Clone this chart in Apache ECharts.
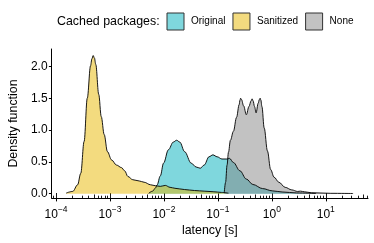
<!DOCTYPE html>
<html><head><meta charset="utf-8">
<script src="https://cdn.jsdelivr.net/npm/echarts@6/dist/echarts.min.js"></script>
<style>html,body{margin:0;padding:0;background:#fff}#c{width:374px;height:243px}</style>
</head><body><div id="c"></div>
<script>
const categories = ['Original', 'Sanitized', 'None'];
const fillColors = ['#00AFBB', '#E7B800', '#868686'];

const originalLatency = [5.21e-3, 6.15e-3, 6.97e-3, 7.48e-3, 8.57e-3, 9.84e-3, 1.21e-2, 1.49e-2, 1.72e-2, 1.97e-2, 2.42e-2, 3.20e-2, 3.94e-2, 4.71e-2, 5.57e-2, 6.85e-2, 8.09e-2, 9.68e-2, 0.119, 0.147, 0.164, 0.194, 0.256, 0.337, 0.445, 0.675, 1.02, 1.55, 2.88, 6.62];
const originalDensity = [0.005, 0.04, 0.09, 0.14, 0.28, 0.48, 0.69, 0.81, 0.84, 0.81, 0.66, 0.48, 0.42, 0.40, 0.45, 0.58, 0.61, 0.58, 0.545, 0.545, 0.555, 0.49, 0.36, 0.23, 0.145, 0.08, 0.045, 0.027, 0.012, 0.004];

const sanitizedLatency = [1.54e-4, 2.04e-4, 2.51e-4, 2.87e-4, 3.31e-4, 3.79e-4, 4.36e-4, 4.62e-4, 4.88e-4, 5.15e-4, 5.45e-4, 6.18e-4, 6.89e-4, 7.80e-4, 8.97e-4, 1.07e-3, 1.32e-3, 1.63e-3, 1.87e-3, 2.15e-3, 2.64e-3, 3.48e-3, 4.29e-3, 5.66e-3, 6.97e-3, 8.57e-3, 1.06e-2, 1.30e-2, 1.60e-2, 2.42e-2, 3.67e-2, 5.56e-2, 8.43e-2, 0.117, 0.157];
const sanitizedDensity = [0.01, 0.036, 0.14, 0.32, 0.82, 1.50, 2.01, 2.12, 2.17, 2.13, 2.03, 1.56, 1.21, 0.93, 0.66, 0.53, 0.45, 0.41, 0.36, 0.27, 0.22, 0.20, 0.18, 0.14, 0.125, 0.115, 0.13, 0.10, 0.085, 0.065, 0.05, 0.04, 0.03, 0.02, 0.008];

const noneLatency = [0.131, 0.139, 0.148, 0.157, 0.171, 0.194, 0.222, 0.248, 0.257, 0.264, 0.274, 0.300, 0.337, 0.377, 0.413, 0.431, 0.449, 0.478, 0.511, 0.558, 0.588, 0.607, 0.627, 0.655, 0.723, 0.830, 0.951, 1.10, 1.35, 1.77, 2.34, 3.01, 3.40, 4.03, 5.38, 12.4, 32.1];
const noneDensity = [0.01, 0.18, 0.45, 0.65, 0.84, 0.98, 1.2, 1.4, 1.47, 1.5, 1.48, 1.38, 1.24, 1.37, 1.46, 1.49, 1.46, 1.37, 1.27, 1.42, 1.48, 1.50, 1.47, 1.37, 1.03, 0.67, 0.38, 0.26, 0.18, 0.10, 0.06, 0.035, 0.04, 0.03, 0.015, 0.006, 0.003];

const majorTickExponents = [-4, -3, -2, -1, 0, 1];
const midTickMultiplier = [5];
const minorTickMultipliers = [2, 3, 4, 6, 7, 8, 9];
const yTickValues = [0, 0.5, 1.0, 1.5, 2.0];

const X_LOG_MIN = -4.083, X_LOG_MAX = 1.783;
const FONT = 'Liberation Sans, Arial, Helvetica, sans-serif';

function zip(xs, ys) { return xs.map((x, i) => [x, ys[i]]); }
function rgba(hex, a) {
  const r = parseInt(hex.slice(1, 3), 16), g = parseInt(hex.slice(3, 5), 16), b = parseInt(hex.slice(5, 7), 16);
  return `rgba(${r},${g},${b},${a})`;
}
function logTicks(mults) {
  const out = [];
  for (let k = -5; k <= 2; k++) for (const m of mults) {
    const v = Math.log10(m) + k;
    if (v >= X_LOG_MIN - 1e-9 && v <= X_LOG_MAX + 1e-9) out.push(v);
  }
  return out;
}

const seriesData = [zip(originalLatency, originalDensity), zip(sanitizedLatency, sanitizedDensity), zip(noneLatency, noneDensity)];

function overlayAxis(values, length, extra) {
  return Object.assign({
    type: 'value', gridIndex: 0, position: 'bottom', min: X_LOG_MIN, max: X_LOG_MAX,
    axisLine: { show: false, onZero: false },
    axisTick: { show: true, inside: true, length: length, customValues: values, lineStyle: { color: '#000', width: 0.9 } },
    axisLabel: { show: false },
    splitLine: { show: false }
  }, extra || {});
}

const chart = echarts.init(document.getElementById('c'), null, { renderer: 'canvas' });
chart.setOption({
  animation: false,
  textStyle: { fontFamily: FONT },
  title: {
    text: 'Cached packages:', left: 57, top: 14.5, padding: 0,
    textStyle: { fontFamily: FONT, fontSize: 12.4, fontWeight: 'normal', color: '#000', lineHeight: 14 }
  },
  legend: {
    left: 166.5, top: 12.5, padding: 0, itemWidth: 17, itemHeight: 17, itemGap: 7,
    textStyle: { fontFamily: FONT, fontSize: 10, color: '#000', padding: [0, 0, 0, 2] },
    data: categories.map((c, i) => ({
      name: c, icon: 'rect',
      itemStyle: { color: rgba(fillColors[i], 0.5), borderColor: '#333', borderWidth: 1 }
    }))
  },
  grid: { left: 43, right: 6, top: 49, bottom: 45 },
  xAxis: [
    {
      type: 'log', logBase: 10, gridIndex: 0, position: 'bottom',
      min: Math.pow(10, X_LOG_MIN), max: Math.pow(10, X_LOG_MAX),
      name: 'latency [s]', nameLocation: 'middle', nameGap: 27,
      nameTextStyle: { fontFamily: FONT, fontSize: 12.4, color: '#000' },
      axisLine: { show: true, onZero: false, lineStyle: { color: '#000', width: 1 } },
      axisTick: { show: false }, axisLabel: { show: false }, splitLine: { show: false }, minorTick: { show: false }
    },
    overlayAxis(majorTickExponents, 3.4, {
      axisTick: { show: true, inside: false, length: 3.4, customValues: majorTickExponents, lineStyle: { color: '#000', width: 1 } },
      axisLabel: {
        show: true, customValues: majorTickExponents, margin: 7, color: '#000',
        formatter: v => '{b|10}{s|' + (v < 0 ? '\u2212' + (-v) : v) + '}',
        rich: {
          b: { fontFamily: FONT, fontSize: 12, color: '#000', lineHeight: 16, verticalAlign: 'bottom' },
          s: { fontFamily: FONT, fontSize: 8.5, color: '#000', lineHeight: 10, verticalAlign: 'top' }
        }
      }
    }),
    overlayAxis(majorTickExponents, 5),
    overlayAxis(logTicks(midTickMultiplier), 3.5),
    overlayAxis(logTicks(minorTickMultipliers), 2.3)
  ],
  yAxis: {
    type: 'value', min: -0.0676, max: 2.273,
    name: 'Density function', nameLocation: 'middle', nameRotate: 90, nameGap: 26,
    nameTextStyle: { fontFamily: FONT, fontSize: 12.4, color: '#000' },
    axisLine: { show: true, onZero: false, lineStyle: { color: '#000', width: 1 } },
    axisTick: { show: true, length: 2.7, customValues: yTickValues, lineStyle: { color: '#000', width: 1 } },
    axisLabel: { show: true, customValues: yTickValues, margin: 4, fontFamily: FONT, fontSize: 12, color: '#000', formatter: v => v.toFixed(1) },
    splitLine: { show: false }
  },
  series: categories.map((c, i) => ({
    name: c, type: 'line', xAxisIndex: 0, yAxisIndex: 0,
    data: seriesData[i], showSymbol: false, symbol: 'none',
    smooth: 0.35, smoothMonotone: 'x',
    itemStyle: { color: fillColors[i] },
    lineStyle: { color: '#000', width: 0.9 },
    areaStyle: { color: fillColors[i], opacity: 0.5, origin: 'auto' }
  }))
});
</script></body></html>
